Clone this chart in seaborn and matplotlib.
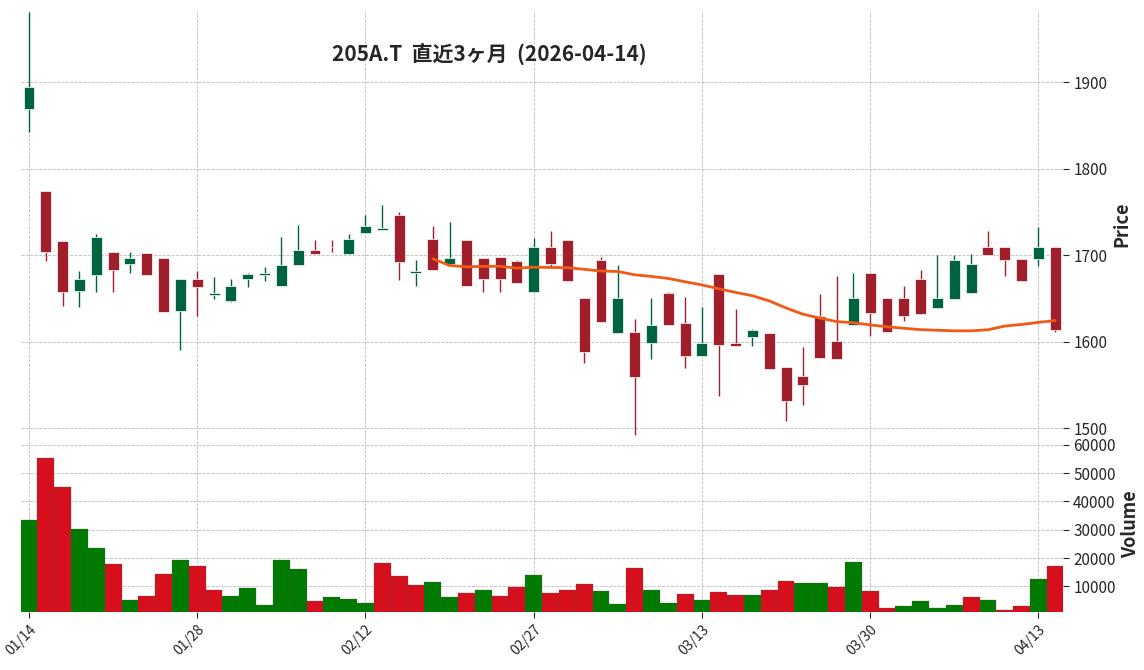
import numpy as np
import pandas as pd
import seaborn as sns
import matplotlib.pyplot as plt

# OHLCV (62 trading days, 01/14 .. 04/14)
opens = [1869, 1774, 1717, 1659, 1677, 1704, 1690, 1703, 1697, 1635,
         1673, 1654, 1647, 1673, 1677, 1664, 1689, 1706, 1710, 1701,
         1726, 1729, 1747, 1680, 1719, 1690, 1718, 1697, 1698, 1693,
         1657, 1710, 1718, 1650, 1695, 1610, 1611, 1598, 1656, 1622,
         1584, 1678, 1598, 1605, 1610, 1571, 1560, 1630, 1601, 1619,
         1679, 1650, 1651, 1672, 1639, 1649, 1656, 1709, 1709, 1696,
         1696, 1709]
highs = [1981, 1774, 1717, 1682, 1724, 1704, 1704, 1703, 1697, 1673,
         1682, 1675, 1672, 1680, 1686, 1721, 1735, 1718, 1718, 1725,
         1747, 1758, 1750, 1694, 1734, 1739, 1718, 1697, 1698, 1695,
         1720, 1728, 1718, 1650, 1698, 1689, 1626, 1650, 1657, 1652,
         1640, 1678, 1638, 1615, 1610, 1571, 1594, 1655, 1676, 1680,
         1679, 1650, 1665, 1683, 1700, 1700, 1701, 1728, 1709, 1696,
         1733, 1709]
lows = [1842, 1693, 1641, 1640, 1657, 1657, 1680, 1677, 1634, 1590,
        1630, 1649, 1646, 1663, 1670, 1664, 1689, 1701, 1704, 1701,
        1726, 1729, 1671, 1665, 1683, 1690, 1665, 1658, 1657, 1668,
        1657, 1688, 1670, 1575, 1623, 1610, 1492, 1580, 1619, 1570,
        1584, 1537, 1595, 1595, 1569, 1508, 1527, 1581, 1580, 1619,
        1607, 1611, 1624, 1632, 1639, 1649, 1656, 1700, 1676, 1670,
        1687, 1611]
closes = [1894, 1704, 1658, 1672, 1721, 1683, 1697, 1677, 1634, 1673,
          1663, 1656, 1665, 1678, 1680, 1689, 1706, 1701, 1709, 1719,
          1734, 1731, 1692, 1682, 1683, 1697, 1665, 1673, 1672, 1668,
          1710, 1690, 1670, 1588, 1623, 1650, 1559, 1619, 1619, 1584,
          1598, 1596, 1595, 1613, 1569, 1531, 1550, 1581, 1580, 1650,
          1633, 1611, 1630, 1632, 1650, 1694, 1690, 1700, 1695, 1670,
          1709, 1614]
volumes = [33300, 55200, 45100, 30200, 23600, 18100, 5300, 6600, 14300, 19500,
           17400, 8700, 6600, 9400, 3500, 19500, 16000, 4900, 6300, 5600,
           4200, 18400, 13600, 10500, 11500, 6300, 7700, 8700, 6600, 9800,
           13900, 7700, 8700, 10800, 8400, 3900, 16400, 8700, 4200, 7300,
           5300, 8000, 7000, 7000, 8700, 11900, 11200, 11200, 9800, 18800,
           8400, 2500, 3200, 4900, 2500, 3500, 6300, 5300, 1800, 3200,
           12500, 17100]
tick_pos = [0, 10, 20, 30, 40, 50, 60]
tick_labels = ["01/14", "01/28", "02/12", "02/27", "03/13", "03/30", "04/13"]

df = pd.DataFrame({"open": opens, "high": highs, "low": lows,
                   "close": closes, "volume": volumes})
df["x"] = np.arange(len(df))
df["ma"] = df["close"].rolling(25).mean()
df["up"] = df["close"] >= df["open"]
df["vdir"] = np.where(df["close"].diff().fillna(1) >= 0, "up", "down")

sns.set_style("whitegrid", {"grid.linestyle": "--", "grid.color": "#bbbbbb"})
plt.rcParams["font.family"] = ["Noto Sans CJK JP", "DejaVu Sans"]

fig = plt.figure(figsize=(11.44, 6.7), dpi=100)
ax = fig.add_axes([0.018, 0.348, 0.911, 0.635])
axv = fig.add_axes([0.018, 0.087, 0.911, 0.261], sharex=ax)

up_c, dn_c = "#006340", "#a01f2a"
colors = np.where(df["up"], up_c, dn_c)
body_lo = np.minimum(df["open"], df["close"])
body_h = np.maximum((df["close"] - df["open"]).abs(), 0.8)
ax.vlines(df["x"], df["low"], df["high"], colors=colors, linewidth=1, zorder=2)
ax.bar(df["x"], body_h, bottom=body_lo, width=0.65, color=colors,
       edgecolor="white", linewidth=0.5, zorder=3)
sns.lineplot(data=df, x="x", y="ma", ax=ax, color="#f05a14", linewidth=2, zorder=4)

sns.barplot(data=df, x="x", y="volume", hue="vdir", dodge=False, ax=axv,
            palette={"up": "#007a00", "down": "#d50f1c"}, width=1.0,
            native_scale=True, legend=False, saturation=1,
            edgecolor="#555555", linewidth=0.2)

for a in (ax, axv):
    a.yaxis.tick_right()
    a.yaxis.set_label_position("right")
    for s in a.spines.values():
        s.set_visible(False)
    a.tick_params(axis="y", length=4, labelsize=11, right=True)
    a.grid(True, linestyle="--", linewidth=0.6, color="#bbbbbb")

ax.set_xlim(-0.5, 61.45)
ax.set_ylim(1490, 1982)
ax.set_yticks([1500, 1600, 1700, 1800, 1900])
ax.set_ylabel("Price", fontsize=13, fontweight="bold")
ax.set_xlabel("")
ax.tick_params(axis="x", labelbottom=False, length=0)
ax.text(0.45, 0.9, "205A.T  直近3ヶ月  (2026-04-14)", transform=ax.transAxes,
        ha="center", va="center", fontsize=15, fontweight="bold")

axv.set_ylim(1100, 62800)
axv.set_yticks([10000, 20000, 30000, 40000, 50000, 60000])
axv.set_ylabel("Volume", fontsize=13, fontweight="bold")
axv.set_xlabel("")
axv.set_xticks(tick_pos)
axv.set_xticklabels(tick_labels, rotation=45, ha="right", rotation_mode="anchor", fontsize=10)
axv.tick_params(axis="x", length=4, bottom=True)
axv.set_xlim(-0.5, 61.45)

fig.savefig("out.png", dpi=100)
